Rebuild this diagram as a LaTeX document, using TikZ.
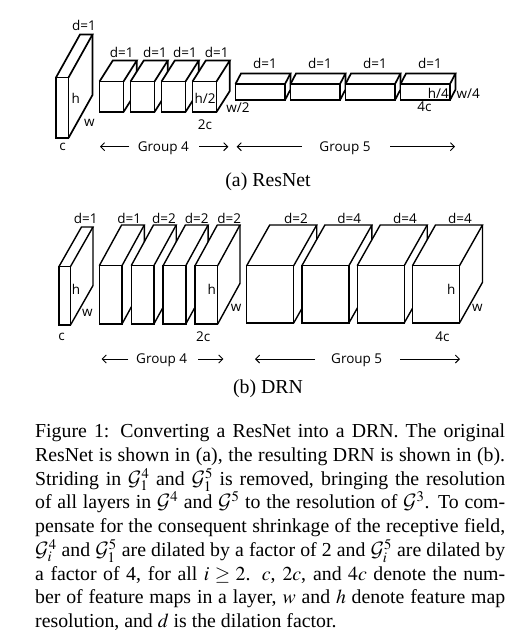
\documentclass[tikz,border=0pt]{standalone}
\usepackage{mathptmx}
\DeclareMathAlphabet{\mathcal}{OMS}{cmsy}{m}{n}
\usepackage{fontspec}
\setmainfont{Liberation Serif}
\newfontfamily\labfont{Open Sans}
\usetikzlibrary{arrows.meta}

% #1 style, #2 x, #3 y (top of front face), #4 width, #5 height, #6 dx, #7 dy (upwards)
\newcommand{\drawcuboid}[7]{%
  \fill[white] (#2,#3+#5) -- (#2,#3) -- (#2+#6,#3-#7) -- (#2+#4+#6,#3-#7) -- (#2+#4+#6,#3+#5-#7) -- (#2+#4,#3+#5) -- cycle;
  \draw[#1] (#2,#3) rectangle (#2+#4,#3+#5);
  \draw[#1] (#2,#3) -- (#2+#6,#3-#7) -- (#2+#4+#6,#3-#7) -- (#2+#4,#3);
  \draw[#1] (#2+#4+#6,#3-#7) -- (#2+#4+#6,#3+#5-#7) -- (#2+#4,#3+#5);
}

\tikzset{
  boxa/.style={line width=1.7pt, line join=miter},
  boxb/.style={line width=1.4pt, line join=miter},
  lab/.style={font=\labfont\fontsize{13.5}{15}\selectfont, inner sep=0pt, anchor=base},
  arr/.style={line width=0.9pt, -{Straight Barb[length=4pt,width=8pt,line width=0.9pt]}},
  sub/.style={font=\fontsize{19.8}{23.75}\selectfont, inner sep=0pt, anchor=base},
}

\begin{document}
\begin{tikzpicture}[x=1pt,y=-1pt]
\useasboundingbox (0,0) rectangle (527,643);

% ---------------- (a) ResNet ----------------
\drawcuboid{boxa}{56}{77.5}{12.5}{60.5}{24}{43}
\foreach \x in {99.5,130.5,161.5,192.5}{\drawcuboid{boxa}{\x}{81.5}{24}{30.5}{13.3}{21}}
\foreach \x in {235.5,290.5,345.5,400.5}{\drawcuboid{boxa}{\x}{84}{49.5}{16}{5.5}{10.5}}

\node[lab] (a0d) at (84,30.7) {d=1};
\node[lab] (a0h) at (75.7,103) {h};
\node[lab] (a0w) at (89.3,126.6) {w};
\node[lab] (a0c) at (62.7,150.6) {c};

\node[lab] (a1d) at (121.7,57.4) {d=1};
\node[lab] (a2d) at (155,57.4) {d=1};
\node[lab] (a3d) at (185,57.4) {d=1};
\node[lab] (a4d) at (216.7,57.4) {d=1};
\node[lab] (a4h) at (205,103) {h/2};
\node[lab] (a4w) at (238,112.7) {w/2};
\node[lab] (a4c) at (205,129.7) {2c};

\node[lab] (a5d) at (265,68.7) {d=1};
\node[lab] (a6d) at (320,68.7) {d=1};
\node[lab] (a7d) at (375,68.7) {d=1};
\node[lab] (a8d) at (430,68.7) {d=1};
\node[lab] (a8h) at (438.3,98) {h/4};
\node[lab] (a8w) at (468.3,98) {w/4};
\node[lab] (a8c) at (424.5,111.4) {4c};

\node[lab] (ag4) at (163.3,151.4) {Group 4};
\coordinate (ag4l1) at (129.3,146.7); \coordinate (ag4l2) at (100,146.7);
\coordinate (ag4r1) at (199.3,146.7); \coordinate (ag4r2) at (228.3,146.7);
\draw[arr] (ag4l1) -- (ag4l2);
\draw[arr] (ag4r1) -- (ag4r2);

\node[lab] (ag5) at (345,151.4) {Group 5};
\coordinate (ag5l1) at (301.7,146.7); \coordinate (ag5l2) at (236.7,146.7);
\coordinate (ag5r1) at (390,146.7); \coordinate (ag5r2) at (455,146.7);
\draw[arr] (ag5l1) -- (ag5l2);
\draw[arr] (ag5r1) -- (ag5r2);

\node[sub] (capa) at (268,186) {(a) ResNet};

% ---------------- (b) DRN ----------------
\drawcuboid{boxb}{59}{266.5}{11.5}{58.5}{22.5}{39.5}
\foreach \x in {99.3,131.2,163.1,195}{\drawcuboid{boxb}{\x}{265.7}{22.7}{58.3}{22.3}{40.7}}
\foreach \x in {246.7,301.9,357.2,412.5}{\drawcuboid{boxb}{\x}{265.7}{47}{57.3}{23}{40.7}}

\node[lab] (b0d) at (85.7,223) {d=1};
\node[lab] (b0h) at (76,294) {h};
\node[lab] (b0w) at (87.3,316.6) {w};
\node[lab] (b0c) at (61.7,340) {c};

\node[lab] (b1d) at (129.3,223) {d=1};
\node[lab] (b2d) at (164,223) {d=2};
\node[lab] (b3d) at (196.7,223) {d=2};
\node[lab] (b4d) at (229.3,223) {d=2};
\node[lab] (b4h) at (211.7,294) {h};
\node[lab] (b4w) at (236,311.6) {w};
\node[lab] (b4c) at (203.3,341.4) {2c};

\node[lab] (b5d) at (296,223) {d=2};
\node[lab] (b6d) at (349.3,223) {d=4};
\node[lab] (b7d) at (405,223) {d=4};
\node[lab] (b8d) at (460,223) {d=4};
\node[lab] (b8h) at (451.2,294) {h};
\node[lab] (b8w) at (477.3,311.6) {w};
\node[lab] (b8c) at (442.5,341.7) {4c};

\node[lab] (bg4) at (161.7,363.7) {Group 4};
\coordinate (bg4l1) at (128.3,359); \coordinate (bg4l2) at (101.7,359);
\coordinate (bg4r1) at (198.3,359); \coordinate (bg4r2) at (223.3,359);
\draw[arr] (bg4l1) -- (bg4l2);
\draw[arr] (bg4r1) -- (bg4r2);

\node[lab] (bg5) at (356.7,363.7) {Group 5};
\coordinate (bg5l1) at (315,359); \coordinate (bg5l2) at (255,359);
\coordinate (bg5r1) at (400,359); \coordinate (bg5r2) at (460,359);
\draw[arr] (bg5l1) -- (bg5l2);
\draw[arr] (bg5r1) -- (bg5r2);

\node[sub] (capb) at (268,393) {(b) DRN};

% ---------------- caption ----------------
\node[anchor=base west, inner sep=0pt, text width=470pt, align=justify,
      font=\fontsize{19.8}{23.75}\selectfont] (caption) at (35,437.7) {%
Figure 1: Converting a ResNet into a DRN. The original\linebreak
ResNet is shown in (a), the resulting DRN is shown in (b).\linebreak
Striding in $\mathcal{G}_1^4$ and $\mathcal{G}_1^5$ is removed, bringing the resolution\linebreak
of all layers in $\mathcal{G}^4$ and $\mathcal{G}^5$ to the resolution of $\mathcal{G}^3$. To com-\linebreak
pensate for the consequent shrinkage of the receptive field,\linebreak
$\mathcal{G}_i^4$ and $\mathcal{G}_1^5$ are dilated by a factor of 2 and $\mathcal{G}_i^5$ are dilated by\linebreak
a factor of 4, for all $i \geq 2$. $c$, $2c$, and $4c$ denote the num-\linebreak
ber of feature maps in a layer, $w$ and $h$ denote feature map\linebreak
resolution, and $d$ is the dilation factor.};
\end{tikzpicture}
\end{document}
